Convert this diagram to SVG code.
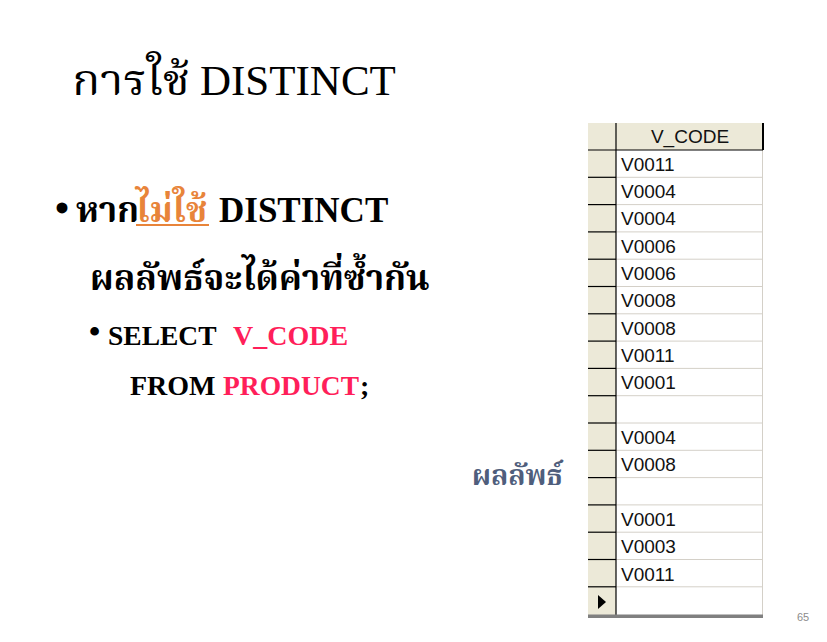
<svg xmlns="http://www.w3.org/2000/svg" width="827" height="642" viewBox="0 0 827 642">
<style>
.th{font-family:"Liberation Serif","Noto Serif Thai","Noto Sans Thai","DejaVu Serif",serif}
.b{font-weight:bold}
.cell{font-family:"Liberation Sans",Arial,sans-serif;font-size:19px;fill:#111}
.sel{fill:#ECE9D8}
.dk{stroke:#000;stroke-width:1.2}
.lt{stroke:#D4D0C8;stroke-width:1}
.pk{fill:#FF1F5A}
</style>
<rect width="827" height="642" fill="#fff"/>
<g id="title">
<text class="th" x="72" y="95" font-size="43" textLength="118" lengthAdjust="spacingAndGlyphs">การใช้</text>
<text class="th" x="200" y="95" font-size="43">DISTINCT</text>
</g>
<g id="bullets">
<text class="th b" x="55" y="222" font-size="40">•</text>
<text class="th b" x="76" y="222" font-size="35">หาก</text>
<text class="th b" x="136" y="222" font-size="35" fill="#E8843A">ไม่ใช้</text>
<line x1="136" y1="225" x2="209" y2="225" stroke="#E8843A" stroke-width="2"/>
<text class="th b" x="219" y="222" font-size="35">DISTINCT</text>
<text class="th b" x="90" y="290" font-size="35">ผลลัพธ์จะได้ค่าที่ซ้ำกัน</text>
<text class="th b" x="89" y="342" font-size="32">•</text>
<text class="th b" x="108" y="345" font-size="27.5">SELECT</text>
<text class="th b pk" x="233" y="345" font-size="28">V_CODE</text>
<text class="th b" x="130" y="395" font-size="28">FROM</text>
<text class="th b pk" x="223" y="395" font-size="27.5">PRODUCT</text>
<text class="th b" x="360" y="395" font-size="28">;</text>
</g>
<g id="result-label">
<text class="th b" x="472" y="485" font-size="28" fill="#4F5E7C">ผลลัพธ์</text>
</g>
<g id="table">
<rect x="588" y="123" width="28" height="492" class="sel"/>
<rect x="616" y="123" width="147" height="27" class="sel"/>
<rect x="616" y="150" width="147" height="465" fill="#fff"/>
<g id="row-lines">
<line x1="616" y1="177.3" x2="763" y2="177.3" class="lt"/>
<line x1="616" y1="204.6" x2="763" y2="204.6" class="lt"/>
<line x1="616" y1="231.9" x2="763" y2="231.9" class="lt"/>
<line x1="616" y1="259.2" x2="763" y2="259.2" class="lt"/>
<line x1="616" y1="286.5" x2="763" y2="286.5" class="lt"/>
<line x1="616" y1="313.8" x2="763" y2="313.8" class="lt"/>
<line x1="616" y1="341.1" x2="763" y2="341.1" class="lt"/>
<line x1="616" y1="368.4" x2="763" y2="368.4" class="lt"/>
<line x1="616" y1="395.7" x2="763" y2="395.7" class="lt"/>
<line x1="616" y1="423" x2="763" y2="423" class="lt"/>
<line x1="616" y1="450.3" x2="763" y2="450.3" class="lt"/>
<line x1="616" y1="477.6" x2="763" y2="477.6" class="lt"/>
<line x1="616" y1="504.9" x2="763" y2="504.9" class="lt"/>
<line x1="616" y1="532.2" x2="763" y2="532.2" class="lt"/>
<line x1="616" y1="559.5" x2="763" y2="559.5" class="lt"/>
<line x1="616" y1="586.8" x2="763" y2="586.8" class="lt"/>
<line x1="762.5" y1="150" x2="762.5" y2="615" class="lt"/>
<line x1="588" y1="177.3" x2="616" y2="177.3" class="dk"/>
<line x1="588" y1="204.6" x2="616" y2="204.6" class="dk"/>
<line x1="588" y1="231.9" x2="616" y2="231.9" class="dk"/>
<line x1="588" y1="259.2" x2="616" y2="259.2" class="dk"/>
<line x1="588" y1="286.5" x2="616" y2="286.5" class="dk"/>
<line x1="588" y1="313.8" x2="616" y2="313.8" class="dk"/>
<line x1="588" y1="341.1" x2="616" y2="341.1" class="dk"/>
<line x1="588" y1="368.4" x2="616" y2="368.4" class="dk"/>
<line x1="588" y1="395.7" x2="616" y2="395.7" class="dk"/>
<line x1="588" y1="423" x2="616" y2="423" class="dk"/>
<line x1="588" y1="450.3" x2="616" y2="450.3" class="dk"/>
<line x1="588" y1="477.6" x2="616" y2="477.6" class="dk"/>
<line x1="588" y1="504.9" x2="616" y2="504.9" class="dk"/>
<line x1="588" y1="532.2" x2="616" y2="532.2" class="dk"/>
<line x1="588" y1="559.5" x2="616" y2="559.5" class="dk"/>
<line x1="588" y1="586.8" x2="616" y2="586.8" class="dk"/>
<line x1="588" y1="150" x2="763" y2="150" class="dk"/>
<line x1="616" y1="123" x2="616" y2="615" class="dk"/>
<line x1="763" y1="123" x2="763" y2="150" stroke="#000" stroke-width="2"/>
</g>
<rect x="588" y="614.5" width="175" height="3.5" fill="#808080"/>
<path d="M598 595 L606 602 L598 609 Z" fill="#000"/>
<text class="cell" x="690" y="143" text-anchor="middle">V_CODE</text>
<text class="cell" x="621" y="171">V0011</text>
<text class="cell" x="621" y="198">V0004</text>
<text class="cell" x="621" y="225">V0004</text>
<text class="cell" x="621" y="253">V0006</text>
<text class="cell" x="621" y="280">V0006</text>
<text class="cell" x="621" y="307">V0008</text>
<text class="cell" x="621" y="335">V0008</text>
<text class="cell" x="621" y="362">V0011</text>
<text class="cell" x="621" y="389">V0001</text>
<text class="cell" x="621" y="444">V0004</text>
<text class="cell" x="621" y="471">V0008</text>
<text class="cell" x="621" y="526">V0001</text>
<text class="cell" x="621" y="553">V0003</text>
<text class="cell" x="621" y="581">V0011</text>
</g>
<g id="page-number">
<text x="797" y="621" font-family="'Liberation Sans',Arial,sans-serif" font-size="11" fill="#8C8C8C">65</text>
</g>
</svg>
